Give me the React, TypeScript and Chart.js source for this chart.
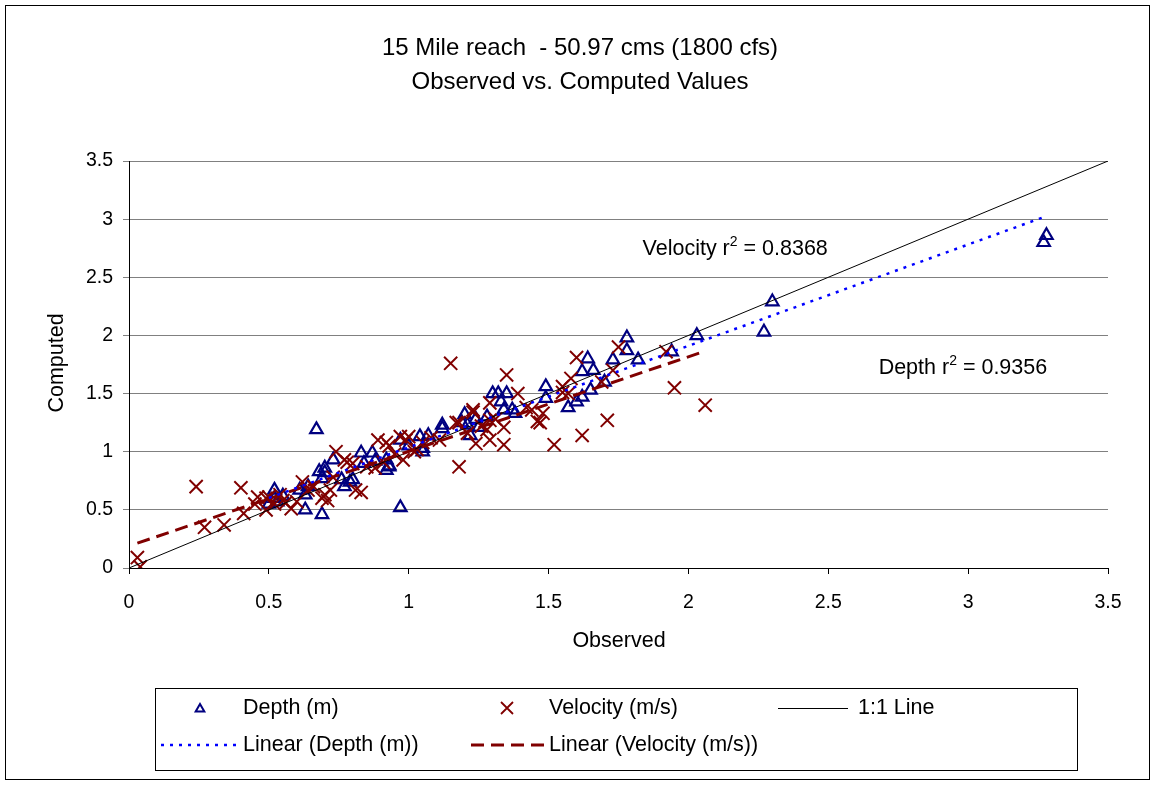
import React, { useEffect, useRef } from "react";
import { Chart, registerables } from "chart.js";

Chart.register(...registerables);

const FONT = "'Liberation Sans', Arial, sans-serif";

const titleLines = ["15 Mile reach  - 50.97 cms (1800 cfs)", "Observed vs. Computed Values"];
const xAxisTitle = "Observed";
const yAxisTitle = "Computed";
const axisTicks = [0, 0.5, 1, 1.5, 2, 2.5, 3, 3.5];

const depthObserved = [
  0.50, 0.52, 0.53, 0.52, 0.55, 0.61, 0.63, 0.63, 0.64, 0.67, 0.68, 0.69, 0.69, 0.70, 0.70,
  0.73, 0.76, 0.77, 0.79, 0.80, 0.83, 0.84, 0.87, 0.88, 0.92, 0.93, 0.92, 0.93, 0.97, 0.97,
  1.00, 1.04, 1.07, 1.05, 1.05, 1.12, 1.12, 1.19, 1.20, 1.21, 1.22, 1.25, 1.24, 1.28, 1.30,
  1.32, 1.35, 1.33, 1.37, 1.38, 1.34, 1.49, 1.49, 1.57, 1.60, 1.62, 1.65, 1.70, 1.62, 1.66,
  1.64, 1.73, 1.82, 1.78, 1.78, 1.94, 2.03, 2.27, 2.30, 3.27, 3.28,
];
const depthComputed = [
  0.55, 0.67, 0.57, 0.60, 0.62, 0.67, 0.63, 0.50, 0.70, 1.19, 0.83, 0.46, 0.77, 0.86, 0.82,
  0.93, 0.76, 0.70, 0.74, 0.76, 0.99, 0.90, 0.99, 0.92, 0.84, 0.87, 0.93, 0.88, 0.52, 1.10,
  1.05, 1.13, 1.14, 1.03, 1.00, 1.20, 1.23, 1.25, 1.32, 1.23, 1.14, 1.21, 1.28, 1.30, 1.50,
  1.50, 1.50, 1.43, 1.36, 1.33, 1.36, 1.56, 1.46, 1.38, 1.43, 1.47, 1.53, 1.60, 1.69, 1.70,
  1.80, 1.79, 1.79, 1.98, 1.87, 1.86, 2.00, 2.03, 2.29, 2.80, 2.86,
];

const velocityObserved = [
  0.03, 0.04, 0.24, 0.27, 0.34, 0.40, 0.41, 0.45, 0.46, 0.49, 0.49, 0.50, 0.52, 0.54, 0.56,
  0.58, 0.55, 0.60, 0.62, 0.64, 0.66, 0.69, 0.70, 0.71, 0.72, 0.73, 0.74, 0.77, 0.78, 0.80,
  0.81, 0.83, 0.85, 0.88, 0.89, 0.91, 0.92, 0.93, 0.95, 0.97, 0.98, 0.99, 1.00, 1.02, 1.03,
  1.05, 1.08, 1.11, 1.15, 1.17, 1.18, 1.18, 1.21, 1.23, 1.23, 1.24, 1.26, 1.29, 1.29, 1.28,
  1.29, 1.31, 1.34, 1.34, 1.35, 1.39, 1.42, 1.44, 1.46, 1.47, 1.48, 1.52, 1.55, 1.55, 1.57,
  1.58, 1.60, 1.62, 1.69, 1.71, 1.73, 1.75, 1.92, 1.95, 2.06,
];
const velocityComputed = [
  0.09, 0.01, 0.70, 0.35, 0.37, 0.69, 0.47, 0.55, 0.61, 0.50, 0.60, 0.61, 0.55, 0.63, 0.56,
  0.51, 0.58, 0.57, 0.74, 0.67, 0.70, 0.60, 0.63, 0.58, 0.67, 0.78, 1.00, 0.93, 0.91, 0.90,
  0.67, 0.65, 0.87, 0.86, 1.10, 0.91, 1.08, 1.05, 0.98, 1.13, 0.93, 1.10, 1.13, 1.00, 1.02,
  1.08, 1.12, 1.10, 1.76, 1.25, 0.87, 1.25, 1.16, 1.34, 1.36, 1.07, 1.22, 1.27, 1.42, 1.19,
  1.10, 1.28, 1.06, 1.21, 1.66, 1.50, 1.38, 1.36, 1.26, 1.25, 1.33, 1.06, 1.51, 1.56, 1.50,
  1.63, 1.81, 1.14, 1.60, 1.27, 1.70, 1.90, 1.86, 1.55, 1.40,
];

const oneToOne = [0, 3.5];

const velocityR2Label = { text: "Velocity r", sup: "2", rest: " = 0.8368", x: 1.836, y: 2.74 };
const depthR2Label = { text: "Depth r", sup: "2", rest: " = 0.9356", x: 2.68, y: 1.72 };

const legendRow1 = ["Depth (m)", "Velocity (m/s)", "1:1 Line"];
const legendRow2 = ["Linear (Depth (m))", "Linear (Velocity (m/s))"];

const DEPTH_COLOR = "#000080";
const VEL_COLOR = "#800000";
const DEPTH_TREND = "#0000FF";

function pairs(xs: number[], ys: number[]) {
  return xs.map((x, i) => ({ x, y: ys[i] }));
}

function trend(xs: number[], ys: number[]) {
  const n = xs.length;
  let sx = 0, sy = 0, sxx = 0, sxy = 0;
  for (let i = 0; i < n; i++) {
    sx += xs[i]; sy += ys[i]; sxx += xs[i] * xs[i]; sxy += xs[i] * ys[i];
  }
  const slope = (n * sxy - sx * sy) / (n * sxx - sx * sx);
  const icpt = (sy - slope * sx) / n;
  const mn = Math.min(...xs), mx = Math.max(...xs);
  return [{ x: mn, y: icpt + slope * mn }, { x: mx, y: icpt + slope * mx }];
}

function drawTriangle(ctx: CanvasRenderingContext2D, x: number, y: number, r: number) {
  ctx.beginPath();
  for (let k = 0; k < 3; k++) {
    const a = (k * 2 * Math.PI) / 3;
    const px = x + Math.sin(a) * r, py = y - Math.cos(a) * r;
    if (k === 0) ctx.moveTo(px, py); else ctx.lineTo(px, py);
  }
  ctx.closePath();
  ctx.stroke();
}

const decorPlugin = {
  id: "decor",
  afterDraw(chart: any) {
    const ctx: CanvasRenderingContext2D = chart.ctx;
    const xs = chart.scales.x, ys = chart.scales.y;
    ctx.save();
    // outer frame
    ctx.strokeStyle = "#000";
    ctx.lineWidth = 1;
    ctx.strokeRect(5.5, 5.5, 1144, 774);
    // title
    ctx.fillStyle = "#000";
    ctx.font = `24px ${FONT}`;
    ctx.textAlign = "center";
    ctx.textBaseline = "middle";
    ctx.fillText(titleLines[0], 580, 48);
    ctx.fillText(titleLines[1], 580, 82);
    // axis titles
    ctx.font = `21.5px ${FONT}`;
    ctx.fillText(xAxisTitle, 619, 641);
    ctx.save();
    ctx.translate(57, 363);
    ctx.rotate(-Math.PI / 2);
    ctx.fillText(yAxisTitle, 0, 0);
    ctx.restore();
    // r2 labels
    for (const lab of [velocityR2Label, depthR2Label]) {
      const px = xs.getPixelForValue(lab.x), py = ys.getPixelForValue(lab.y);
      ctx.textAlign = "left";
      ctx.font = `21.5px ${FONT}`;
      ctx.fillText(lab.text, px, py);
      let w = ctx.measureText(lab.text).width;
      ctx.font = `14px ${FONT}`;
      ctx.fillText(lab.sup, px + w, py - 7);
      w += ctx.measureText(lab.sup).width;
      ctx.font = `21.5px ${FONT}`;
      ctx.fillText(lab.rest, px + w, py);
    }
    // legend
    ctx.strokeStyle = "#000";
    ctx.lineWidth = 1;
    ctx.strokeRect(155.5, 688.5, 922, 82);
    ctx.font = `21.5px ${FONT}`;
    ctx.textAlign = "left";
    ctx.textBaseline = "middle";
    const r1 = 708, r2 = 745;
    ctx.strokeStyle = DEPTH_COLOR;
    ctx.lineWidth = 2;
    drawTriangle(ctx, 200, r1 + 1, 5);
    ctx.fillText(legendRow1[0], 243, r1);
    ctx.strokeStyle = VEL_COLOR;
    ctx.lineWidth = 1.8;
    ctx.beginPath();
    ctx.moveTo(501, r1 - 6); ctx.lineTo(513, r1 + 6);
    ctx.moveTo(513, r1 - 6); ctx.lineTo(501, r1 + 6);
    ctx.stroke();
    ctx.fillText(legendRow1[1], 549, r1);
    ctx.strokeStyle = "#000";
    ctx.lineWidth = 1;
    ctx.beginPath();
    ctx.moveTo(778, r1 + 0.5); ctx.lineTo(848, r1 + 0.5);
    ctx.stroke();
    ctx.fillText(legendRow1[2], 858, r1);
    ctx.strokeStyle = DEPTH_TREND;
    ctx.lineWidth = 2.5;
    ctx.setLineDash([3, 6]);
    ctx.beginPath();
    ctx.moveTo(161, r2); ctx.lineTo(240, r2);
    ctx.stroke();
    ctx.fillText(legendRow2[0], 243, r2);
    ctx.strokeStyle = VEL_COLOR;
    ctx.lineWidth = 3;
    ctx.setLineDash([13, 7]);
    ctx.beginPath();
    ctx.moveTo(471, r2); ctx.lineTo(546, r2);
    ctx.stroke();
    ctx.setLineDash([]);
    ctx.fillText(legendRow2[1], 549, r2);
    ctx.restore();
  },
};

export default function App() {
  const ref = useRef<HTMLCanvasElement | null>(null);
  useEffect(() => {
    if (!ref.current) return;
    const depthPts = pairs(depthObserved, depthComputed);
    const velPts = pairs(velocityObserved, velocityComputed);
    const chart = new Chart(ref.current, {
      type: "scatter",
      data: {
        datasets: [
          {
            label: "Linear (Depth (m))",
            data: trend(depthObserved, depthComputed),
            showLine: true,
            borderColor: DEPTH_TREND,
            borderWidth: 2.5,
            borderDash: [3, 6],
            pointRadius: 0,
          },
          {
            label: "Linear (Velocity (m/s))",
            data: trend(velocityObserved, velocityComputed),
            showLine: true,
            borderColor: VEL_COLOR,
            borderWidth: 3,
            borderDash: [13, 7],
            pointRadius: 0,
          },
          {
            label: "1:1 Line",
            data: oneToOne.map((v) => ({ x: v, y: v })),
            showLine: true,
            borderColor: "#000",
            borderWidth: 1,
            pointRadius: 0,
          },
          {
            label: "Velocity (m/s)",
            data: velPts,
            pointStyle: "crossRot",
            pointRadius: 9.3,
            pointBorderColor: VEL_COLOR,
            borderColor: VEL_COLOR,
            pointBorderWidth: 2,
            backgroundColor: "transparent",
          },
          {
            label: "Depth (m)",
            data: depthPts,
            pointStyle: "triangle",
            pointRadius: 7.2,
            pointBorderColor: DEPTH_COLOR,
            borderColor: DEPTH_COLOR,
            pointBorderWidth: 2.2,
            backgroundColor: "transparent",
            pointBackgroundColor: "transparent",
          },
        ],
      },
      options: {
        animation: false,
        responsive: false,
        layout: { padding: { left: 0, top: 161, right: 47, bottom: 127 } },
        plugins: { legend: { display: false }, tooltip: { enabled: false }, title: { display: false } },
        scales: {
          x: {
            type: "linear",
            min: 0,
            max: 3.5,
            afterFit: (s: any) => { s.height = 90; },
            afterBuildTicks: (s: any) => { s.ticks = axisTicks.map((v) => ({ value: v })); },
            ticks: {
              font: { family: FONT, size: 19.5 },
              color: "#000",
              padding: 17,
              maxRotation: 0,
              callback: (v: any) => String(v),
            },
            grid: { drawOnChartArea: false, drawTicks: true, tickLength: 6, color: "#000" },
            border: { color: "#000", width: 1 },
          },
          y: {
            type: "linear",
            min: 0,
            max: 3.5,
            afterFit: (s: any) => { s.width = 129; },
            afterBuildTicks: (s: any) => { s.ticks = axisTicks.map((v) => ({ value: v })); },
            ticks: {
              font: { family: FONT, size: 19.5 },
              color: "#000",
              padding: 10,
              callback: (v: any) => String(v),
            },
            grid: { color: "#808080", lineWidth: 1, tickLength: 6, drawTicks: true },
            border: { color: "#000", width: 1 },
          },
        },
      },
      plugins: [decorPlugin],
    } as any);
    return () => chart.destroy();
  }, []);
  return (
    <div style={{ position: "absolute", left: 0, top: 0, width: 1155, height: 785, background: "#fff" }}>
      <canvas ref={ref} width={1155} height={785} style={{ display: "block" }} />
    </div>
  );
}
